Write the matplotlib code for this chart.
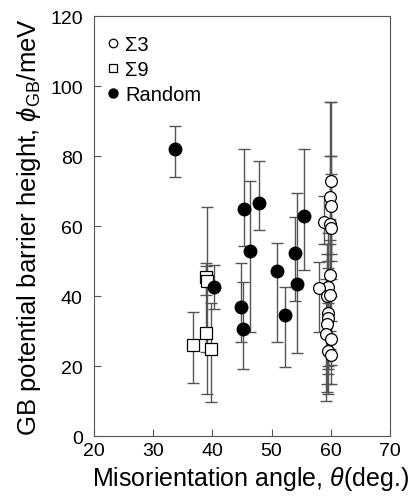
import matplotlib
matplotlib.use("Agg")
import matplotlib.pyplot as plt
import numpy as np

plt.rcParams['font.family'] = ['Liberation Sans', 'DejaVu Sans']
plt.rcParams['mathtext.fontset'] = 'custom'
plt.rcParams['mathtext.rm'] = 'Liberation Sans'
plt.rcParams['mathtext.it'] = 'Liberation Sans:italic'

# Sigma 3 boundaries: angle, barrier, lower bar end, upper bar end
s3_theta = [60.0, 59.9, 60.0, 58.8, 59.9, 60.0, 59.9, 59.6, 58.0, 59.4, 59.8, 59.6, 59.6, 59.3, 59.2, 60.0, 59.6, 60.0]
s3_phi   = [72.9, 68.2, 65.8, 61.3, 60.6, 59.6, 46.1, 42.7, 42.3, 40.1, 40.4, 35.3, 33.9, 32.0, 29.1, 27.9, 24.4, 23.2]
s3_lo    = [52.0, 55.0, 50.0, 55.0, 40.0, 45.0, 30.0, 20.0, 29.8, 14.9, 25.0, 19.1, 17.7, 12.7, 10.1, 20.4, 12.0, 15.0]
s3_hi    = [95.6, 95.6, 80.0, 68.7, 80.0, 75.0, 62.0, 58.0, 49.8, 55.0, 56.0, 50.0, 48.0, 52.0, 45.0, 40.0, 38.0, 33.0]

# Sigma 9 boundaries
s9_theta = [36.7, 38.9, 39.1, 38.9, 39.7]
s9_phi   = [26.2, 45.6, 44.3, 29.5, 24.9]
s9_lo    = [15.1, 40.3, 12.0, 24.0, 9.7]
s9_hi    = [35.4, 49.6, 65.4, 48.7, 38.0]

# Random boundaries
r_theta = [33.7, 40.3, 44.8, 45.2, 45.3, 46.4, 47.9, 50.9, 52.3, 53.9, 54.3, 55.5]
r_phi   = [82.0, 42.5, 37.0, 30.5, 65.0, 53.0, 66.7, 47.1, 34.6, 52.4, 43.4, 62.8]
r_lo    = [74.0, 36.3, 27.0, 19.1, 54.2, 29.7, 59.0, 26.9, 19.7, 38.7, 23.7, 47.5]
r_hi    = [88.5, 48.9, 49.6, 44.1, 82.0, 72.8, 78.7, 55.1, 42.5, 62.6, 69.5, 82.0]

fig = plt.figure(figsize=(4.08, 5.02), dpi=100)
ax = fig.add_axes([0.230, 0.129, 0.726, 0.837])

ecol = '#555555'

def draw(th, ph, lo, hi, **kw):
    th = np.array(th); ph = np.array(ph)
    yerr = np.vstack([ph - np.array(lo), np.array(hi) - ph])
    ax.errorbar(th, ph, yerr=yerr, fmt='none', ecolor=ecol, elinewidth=1.0,
                capsize=4, capthick=1.0, zorder=1)
    return ax.plot(th, ph, linestyle='none', zorder=3, **kw)[0]

h9 = draw(s9_theta, s9_phi, s9_lo, s9_hi, marker='s', ms=8, mfc='white', mec='black', mew=0.9)
hr = draw(r_theta, r_phi, r_lo, r_hi, marker='o', ms=9, mfc='black', mec='black')
h3 = draw(s3_theta, s3_phi, s3_lo, s3_hi, marker='o', ms=8.5, mfc='white', mec='black', mew=0.9)

ax.set_xlim(20, 70)
ax.set_ylim(0, 120)
ax.set_xticks([20, 30, 40, 50, 60, 70])
ax.set_yticks([0, 20, 40, 60, 80, 100, 120])
ax.tick_params(direction='in', labelsize=14, length=5, width=0.8, color='#555555')
ax.tick_params(axis='y', pad=8)
ax.tick_params(axis='x', pad=4.5)
for s in ax.spines.values():
    s.set_linewidth(0.8)
    s.set_color('#555555')

ax.set_xlabel(r'Misorientation angle, $\it{\theta}$(deg.)', fontsize=18, labelpad=3,
              ha='left', x=-0.005)
ax.set_ylabel(r'GB potential barrier height, $\it{\phi}_{\rm GB}$/meV', fontsize=18.5, labelpad=5)

leg = ax.legend([h3, h9, hr], ['Σ3', 'Σ9', 'Random'], loc='upper left', frameon=False,
                fontsize=14.5, handlelength=0.5, handletextpad=0.35, labelspacing=0.3,
                bbox_to_anchor=(0.02, 0.975), borderaxespad=0.0, markerscale=0.72)

fig.savefig('out.png', dpi=100)
